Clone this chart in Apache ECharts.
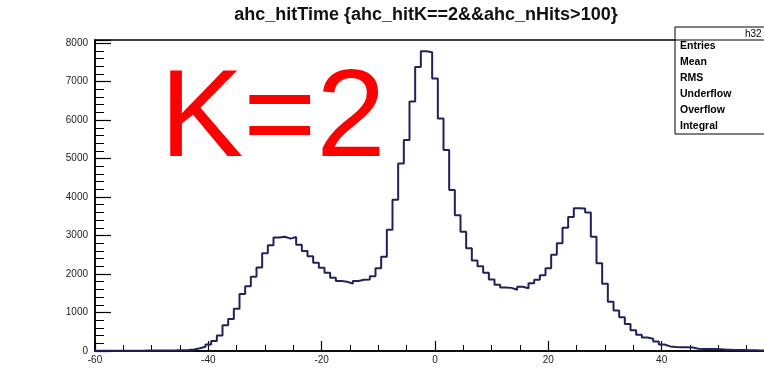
<!DOCTYPE html>
<html>
<head>
<meta charset="utf-8">
<script src="https://cdn.jsdelivr.net/npm/echarts@6/dist/echarts.min.js"></script>
<style>
  html, body { margin: 0; padding: 0; background: #ffffff; }
  #chart { width: 764px; height: 375px; }
</style>
</head>
<body>
<div id="chart"></div>
<script>
// ahc_hitTime histogram: 121 unit-wide bins centred on the integers -60 .. 60
const binLow = -60.5;
const binWidth = 1;
const counts = [
  // -60 .. -51
  4, 5, 5, 6, 6, 7, 8, 8, 9, 10,
  // -50 .. -41
  11, 12, 14, 16, 18, 22, 26, 40, 70, 110,
  // -40 .. -31
  170, 260, 400, 670, 830, 1100, 1480, 1680, 1930, 2170,
  // -30 .. -21
  2540, 2750, 2950, 2970, 2920, 2960, 2760, 2600, 2460, 2290,
  // -20 .. -11
  2160, 2030, 1900, 1820, 1800, 1750, 1820, 1850, 1860, 1940,
  // -10 .. -1
  2150, 2450, 3150, 3930, 4870, 5480, 6480, 7380, 7790, 7760,
  // 0 .. 9
  7080, 6040, 5220, 4180, 3530, 3100, 2670, 2350, 2200, 2030,
  // 10 .. 19
  1860, 1720, 1650, 1640, 1590, 1670, 1630, 1760, 1850, 1970,
  // 20 .. 29
  2150, 2500, 2800, 3200, 3480, 3710, 3700, 3600, 2970, 2280,
  // 30 .. 39
  1750, 1280, 1050, 880, 700, 540, 420, 350, 320, 250,
  // 40 .. 49
  170, 120, 105, 100, 95, 90, 60, 55, 52, 50,
  // 50 .. 60
  45, 35, 30, 27, 24, 20, 18, 15, 12, 10, 8
];

const titleText = 'ahc_hitTime {ahc_hitK==2&&ahc_nHits>100}';
const statsName = 'h32';
const statsLabels = ['Entries', 'Mean', 'RMS', 'Underflow', 'Overflow', 'Integral'];
const bigLabel = 'K=2';

// step outline: one point at each bin's left edge, plus the closing edge
const outline = counts.map((c, i) => [binLow + i * binWidth, c]);
outline.push([binLow + counts.length * binWidth, counts[counts.length - 1]]);

const chart = echarts.init(document.getElementById('chart'), null, { renderer: 'canvas' });

// the frame runs on past the right edge of the canvas
const gridLeft = 95, gridTop = 40, gridW = 680, gridH = 311;
const axisFont = '"Liberation Sans", Arial, sans-serif';

const statsX = 675, statsY = 27;
const statsGraphics = [
  {
    type: 'rect', z: 100,
    shape: { x: statsX, y: statsY, width: 120, height: 107 },
    style: { fill: '#ffffff', stroke: '#000000', lineWidth: 1 }
  },
  {
    type: 'line', z: 101,
    shape: { x1: statsX, y1: statsY + 13, x2: statsX + 120, y2: statsY + 13 },
    style: { stroke: '#000000', lineWidth: 1 }
  },
  {
    type: 'text', z: 102, x: 745, y: statsY + 7,
    style: { text: statsName, font: '10px ' + axisFont, fill: '#000', textAlign: 'left', textVerticalAlign: 'middle' }
  }
].concat(statsLabels.map((t, i) => ({
  type: 'text', z: 102, x: statsX + 5, y: statsY + 19 + i * 16,
  style: { text: t, font: 'bold 10.5px ' + axisFont, fill: '#000', textAlign: 'left', textVerticalAlign: 'middle' }
})));

chart.setOption({
  animation: false,
  backgroundColor: '#ffffff',
  grid: {
    left: gridLeft, top: gridTop, width: gridW, height: gridH,
    outerBoundsMode: 'none',
    show: true, borderColor: '#000000', borderWidth: 1.5, containLabel: false
  },
  xAxis: {
    type: 'value', min: -60, max: 60, interval: 20,
    axisLine: { show: true, onZero: false, lineStyle: { color: '#000', width: 1.5 } },
    axisTick: { show: true, inside: true, length: 10, lineStyle: { color: '#000', width: 1.2 } },
    minorTick: { show: true, splitNumber: 4, length: 6, lineStyle: { color: '#000', width: 1 } },
    splitLine: { show: false },
    axisLabel: { color: '#222', fontSize: 10, fontFamily: axisFont, margin: 4 }
  },
  yAxis: {
    type: 'value', min: 0, max: 8080, interval: 1000,
    axisLine: { show: true, onZero: false, lineStyle: { color: '#000', width: 1.5 } },
    axisTick: { show: true, inside: true, length: 16, lineStyle: { color: '#000', width: 1.2 } },
    minorTick: { show: true, splitNumber: 5, length: 9, lineStyle: { color: '#000', width: 1 } },
    splitLine: { show: false },
    axisLabel: { color: '#222', fontSize: 10, fontFamily: axisFont, margin: 7, showMaxLabel: false,
      formatter: v => (v % 1000 === 0 ? String(v) : '') }
  },
  series: [{
    type: 'line',
    step: 'end',
    data: outline,
    symbol: 'none',
    clip: true,
    lineStyle: { color: '#22225a', width: 2 }
  }],
  graphic: [
    {
      type: 'text', x: 426, y: 15,
      style: { text: titleText, font: 'bold 18px ' + axisFont, fill: '#111', textAlign: 'center', textVerticalAlign: 'middle' }
    },
    {
      type: 'text', x: 160, y: 122, z: 50,
      style: { text: bigLabel, font: '125px ' + axisFont, fill: '#ff0000', textAlign: 'left', textVerticalAlign: 'middle' }
    }
  ].concat(statsGraphics)
});
</script>
</body>
</html>
